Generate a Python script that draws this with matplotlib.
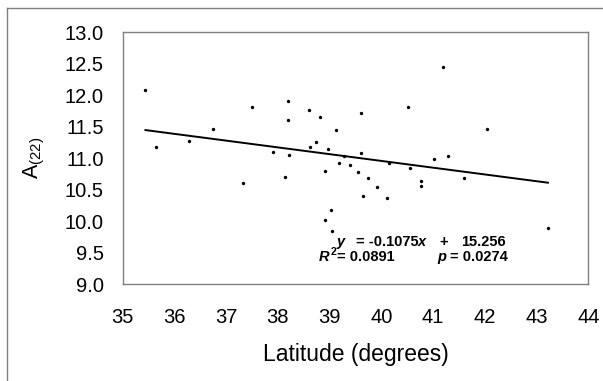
import matplotlib
matplotlib.use("Agg")
import matplotlib.pyplot as plt
from matplotlib.lines import Line2D
import numpy as np

plt.rcParams['font.family'] = ['Liberation Sans', 'DejaVu Sans']
plt.rcParams['mathtext.fontset'] = 'custom'
plt.rcParams['mathtext.rm'] = 'Liberation Sans'
plt.rcParams['mathtext.it'] = 'Liberation Sans:italic'
plt.rcParams['mathtext.bf'] = 'Liberation Sans:bold'

latitude = [35.44, 35.64, 36.29, 36.74, 37.32, 37.49, 37.90, 38.13, 38.20, 38.19,
            38.21, 38.61, 38.62, 38.74, 38.82, 38.96, 38.92, 39.12, 39.18, 39.03,
            38.92, 39.05, 39.27, 39.40, 39.54, 39.60, 39.61, 39.65, 39.74, 39.91,
            40.10, 40.15, 40.52, 40.55, 40.76, 40.76, 41.01, 41.19, 41.28, 41.60,
            42.05, 43.22]
a22 = [12.08, 11.18, 11.28, 11.47, 10.61, 11.82, 11.10, 10.70, 11.91, 11.60,
       11.05, 11.77, 11.18, 11.25, 11.65, 11.14, 10.80, 11.44, 10.93, 10.17,
       10.02, 9.85, 11.04, 10.89, 10.78, 11.71, 11.08, 10.40, 10.69, 10.54,
       10.37, 10.93, 11.82, 10.84, 10.63, 10.55, 10.98, 12.45, 11.04, 10.69,
       11.46, 9.89]
slope = -0.1075
intercept = 15.256
x_ticks = [35, 36, 37, 38, 39, 40, 41, 42, 43, 44]
y_ticks = [9.0, 9.5, 10.0, 10.5, 11.0, 11.5, 12.0, 12.5, 13.0]

W, H = 603, 381
fig = plt.figure(figsize=(W/100, H/100), dpi=100)
ax = fig.add_axes([122.7/W, 1-284/H, (588.3-122.7)/W, (284-32.3)/H])

ax.scatter(latitude, a22, s=6, color='black', zorder=3, linewidths=0)
xl = np.array([min(latitude), max(latitude)])
ax.plot(xl, slope*xl + intercept, color='black', lw=1.4)

ax.set_xlim(35, 44)
ax.set_ylim(9.0, 13.0)
ax.set_xticks(x_ticks)
ax.set_xticklabels([str(v) for v in x_ticks])
ax.set_yticks(y_ticks)
ax.set_yticklabels([f"{v:.1f}" for v in y_ticks])
ax.tick_params(axis='x', length=0, pad=17.3, labelsize=14.5)
ax.tick_params(axis='y', length=0, pad=13.7, labelsize=14.5)
for s in ax.spines.values():
    s.set_color('#808080')
    s.set_linewidth(1.0)

ax.set_xlabel('Latitude (degrees)', fontsize=16.5)
ax.xaxis.set_label_coords((355.7-122.7)/465.6, (284-343)/251.7)
ax.set_ylabel(r'A$_{\mathrm{(22)}}$', fontsize=15.5)
ax.yaxis.set_label_coords((47-122.7)/465.6, 0.5)

def put(x, y, s, size=10.5, style='normal'):
    fig.text(x/W, 1-y/H, s, fontsize=size, fontweight='bold', fontstyle=style,
             ha='left', va='center')

# equation line
put(337.0, 242.3, 'y', style='italic')
put(355.5, 242.3, '= -0.1075')
put(418.0, 242.3, 'x', style='italic')
put(439.0, 242.3, '+')
put(461.5, 242.3, '15.256')
# statistics line
put(319.0, 257.3, 'R', style='italic')
put(331.0, 252.0, '2', size=7.5)
put(337.0, 257.3, '= 0.0891')
put(437.0, 257.3, 'p', style='italic')
put(450.5, 257.3, '= 0.0274')

fig.add_artist(Line2D([6.5/W, 6.5/W], [0, 1-8.3/H], color='#808080', lw=1.0))
fig.add_artist(Line2D([6.5/W, 1], [1-8.3/H, 1-8.3/H], color='#808080', lw=1.0))

fig.savefig('out.png', dpi=100, facecolor='white')
